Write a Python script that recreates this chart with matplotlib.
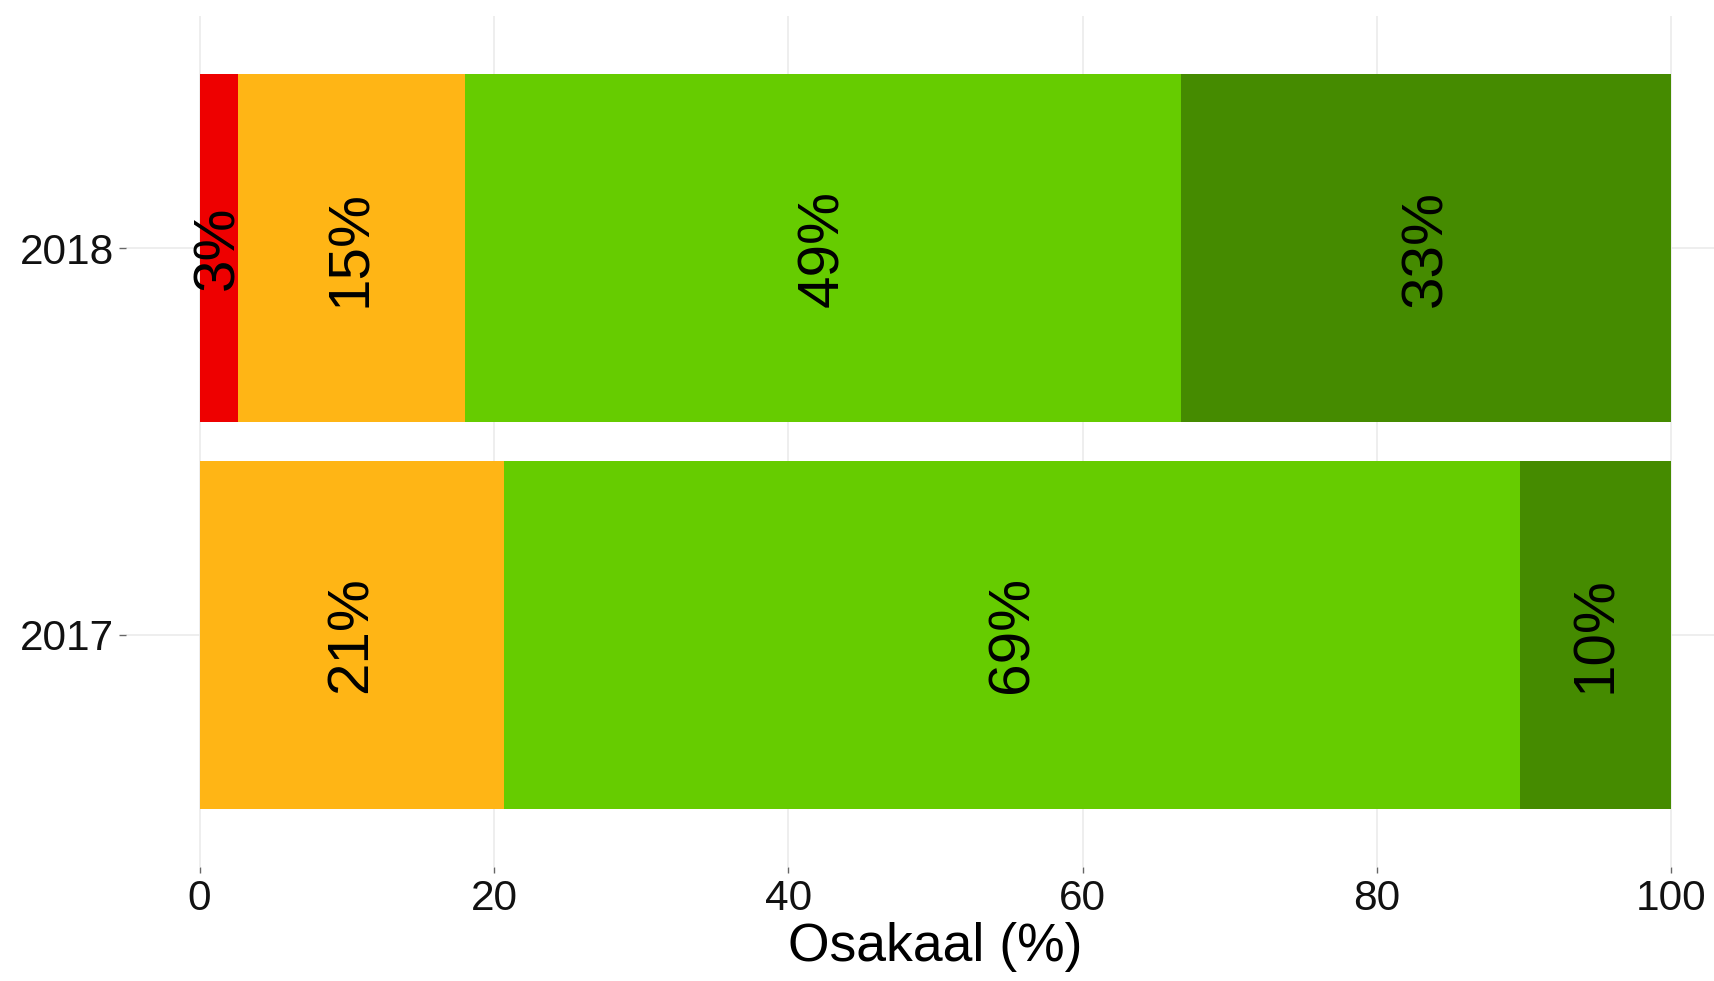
import matplotlib
matplotlib.use("Agg")
import matplotlib.pyplot as plt
import numpy as np

# Data (shares in %)
years = ["2017", "2018"]
class_names = ["halb", "kesine", "hea", "vaga hea"]
share_2017 = [0.0, 20.7, 69.0, 10.3]
share_2018 = [2.6, 15.4, 48.7, 33.3]
bar_labels_2017 = ["", "21%", "69%", "10%"]
bar_labels_2018 = ["3%", "15%", "49%", "33%"]

COLORS = ["#EE0000", "#FFB515", "#66CC00", "#458B00"]
GRID = "#EBEBEB"

plt.rcParams["font.family"] = ["Liberation Sans", "DejaVu Sans"]

fig = plt.figure(figsize=(17.14, 9.81), dpi=100)
# panel runs from -5 to 105, right part falls outside the picture like in the original
ax = fig.add_axes([126 / 1714, 1 - 867 / 981, 1619 / 1714, 851 / 981])

shares = np.array([share_2017, share_2018])
labels = [bar_labels_2017, bar_labels_2018]
ypos = np.arange(1, len(years) + 1)

left = np.zeros(len(years))
for j, col in enumerate(COLORS):
    vals = shares[:, j]
    ax.barh(ypos, vals, left=left, height=0.9, color=col, linewidth=0, zorder=2)
    for i in range(len(years)):
        if labels[i][j]:
            ax.text(left[i] + vals[i] / 2, ypos[i], labels[i][j], rotation=90,
                    ha="center", va="center", fontsize=42, color="black", zorder=3)
    left = left + vals

ax.set_xlim(-5, 105)
ax.set_ylim(0.4, 2.6)
ax.set_yticks(ypos)
ax.set_yticklabels(years)
ax.set_xticks([0, 20, 40, 60, 80, 100])
ax.grid(True, color=GRID, linewidth=1.2, zorder=0)
ax.set_axisbelow(True)
for s in ax.spines.values():
    s.set_visible(False)
ax.tick_params(axis="y", length=5, width=1, color="#666666", pad=3.5, labelsize=30.5, labelcolor="#111111")
ax.tick_params(axis="x", length=4, width=1, color="#666666", pad=5, labelsize=30.5, labelcolor="#111111")
ax.set_xlabel("Osakaal (%)", fontsize=38.5, labelpad=2, color="black")

fig.savefig("out.png", dpi=100)
